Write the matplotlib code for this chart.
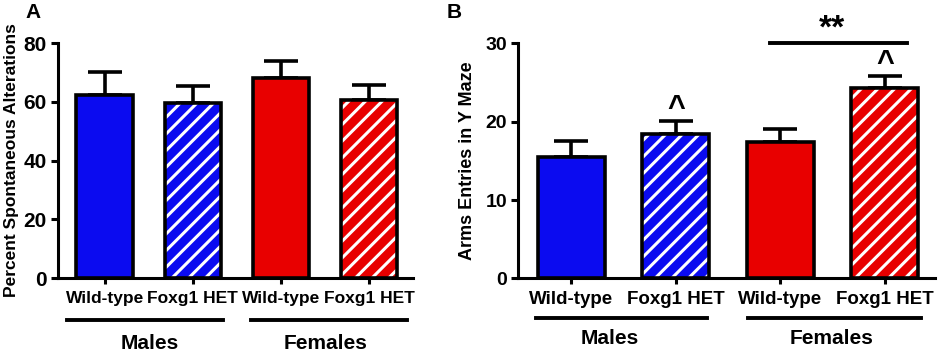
import numpy as np
import matplotlib.pyplot as plt

plt.rcParams['font.family'] = ['Liberation Sans', 'DejaVu Sans']
plt.rcParams['font.weight'] = 'bold'
plt.rcParams['hatch.linewidth'] = 2.2

groups = ['Wild-type', 'Foxg1 HET', 'Wild-type', 'Foxg1 HET']
sexes = ['Males', 'Females']
colors = ['#0b0bf0', '#0b0bf0', '#e80000', '#e80000']
hatched = [False, True, False, True]

# panel A: percent spontaneous alterations
alt_mean = [62.3, 59.5, 68.0, 60.6]
alt_sem = [7.9, 6.0, 5.9, 5.1]

# panel B: arm entries
arm_mean = [15.5, 18.4, 17.4, 24.3]
arm_sem = [2.0, 1.7, 1.7, 1.6]

fig = plt.figure(figsize=(9.41, 3.56), dpi=100)
axA = fig.add_axes([0.0616, 0.219, 0.3773, 0.660])
axB = fig.add_axes([0.5505, 0.218, 0.4431, 0.660])


def draw_bars(ax, means, sems, ymax, step, xlim, xfs, yfs):
    x = np.arange(len(means))
    for i in x:
        if hatched[i]:
            ax.bar(i, means[i], width=0.64, color=colors[i], edgecolor='white',
                   hatch='//', linewidth=0, zorder=2)
            ax.bar(i, means[i], width=0.64, fill=False, edgecolor='black',
                   linewidth=2.6, zorder=3)
        else:
            ax.bar(i, means[i], width=0.64, color=colors[i], edgecolor='black',
                   linewidth=2.6, zorder=3)
    ax.errorbar(x, means, yerr=[np.zeros(len(sems)), sems], fmt='none',
                ecolor='black', elinewidth=2.6, capsize=12, capthick=2.6, zorder=1)
    ax.set_xlim(*xlim)
    ax.set_ylim(0, ymax)
    ax.set_yticks(np.arange(0, ymax + 1, step))
    ax.set_xticks(x)
    ax.set_xticklabels(groups, fontsize=xfs, fontweight='bold')
    for lab in ax.get_yticklabels():
        lab.set_fontsize(yfs)
        lab.set_fontweight('bold')
    for s in ['top', 'right']:
        ax.spines[s].set_visible(False)
    for s in ['left', 'bottom']:
        ax.spines[s].set_linewidth(2.2)
    ax.tick_params(axis='y', width=2.2, length=5, pad=3)
    ax.tick_params(axis='x', width=2.2, length=4, pad=5)


draw_bars(axA, alt_mean, alt_sem, 80, 20, (-0.53, 3.5), 12.5, 15)
draw_bars(axB, arm_mean, arm_sem, 30, 10, (-0.51, 3.48), 13.5, 14)

axA.set_ylabel('Percent Spontaneous Alterations', fontsize=12.5, fontweight='bold', labelpad=3)
axB.set_ylabel('Arms Entries in Y Maze', fontsize=13, fontweight='bold', labelpad=7)

# group underlines and labels
tA = axA.get_xaxis_transform()
for (x0, x1), xc, name in zip([(-0.43, 1.34), (1.66, 3.43)], [0.51, 2.51], sexes):
    axA.plot([x0, x1], [-0.179, -0.179], color='black', lw=2.8, transform=tA, clip_on=False)
    axA.text(xc, -0.277, name, transform=tA, ha='center', va='center', fontsize=15, fontweight='bold')

tB = axB.get_xaxis_transform()
for (x0, x1), xc, name in zip([(-0.34, 1.30), (1.69, 3.35)], [0.37, 2.49], sexes):
    axB.plot([x0, x1], [-0.169, -0.169], color='black', lw=2.8, transform=tB, clip_on=False)
    axB.text(xc, -0.254, name, transform=tB, ha='center', va='center', fontsize=15, fontweight='bold')

# significance marks on panel B
axB.plot([1.90, 3.21], [30.1, 30.1], color='black', lw=2.8, clip_on=False)
axB.text(2.49, 29.8, '**', ha='center', va='bottom', fontsize=24, fontweight='bold')
for i in [1, 3]:
    axB.text(i, arm_mean[i] + arm_sem[i] - 0.4, '^', ha='center', va='bottom',
             fontsize=22, fontweight='bold')

fig.text(25 / 941, 1 - 13 / 356, 'A', fontsize=15, fontweight='bold', ha='left', va='center')
fig.text(447 / 941, 1 - 12 / 356, 'B', fontsize=15, fontweight='bold', ha='left', va='center')

fig.savefig('out.png', dpi=100)
